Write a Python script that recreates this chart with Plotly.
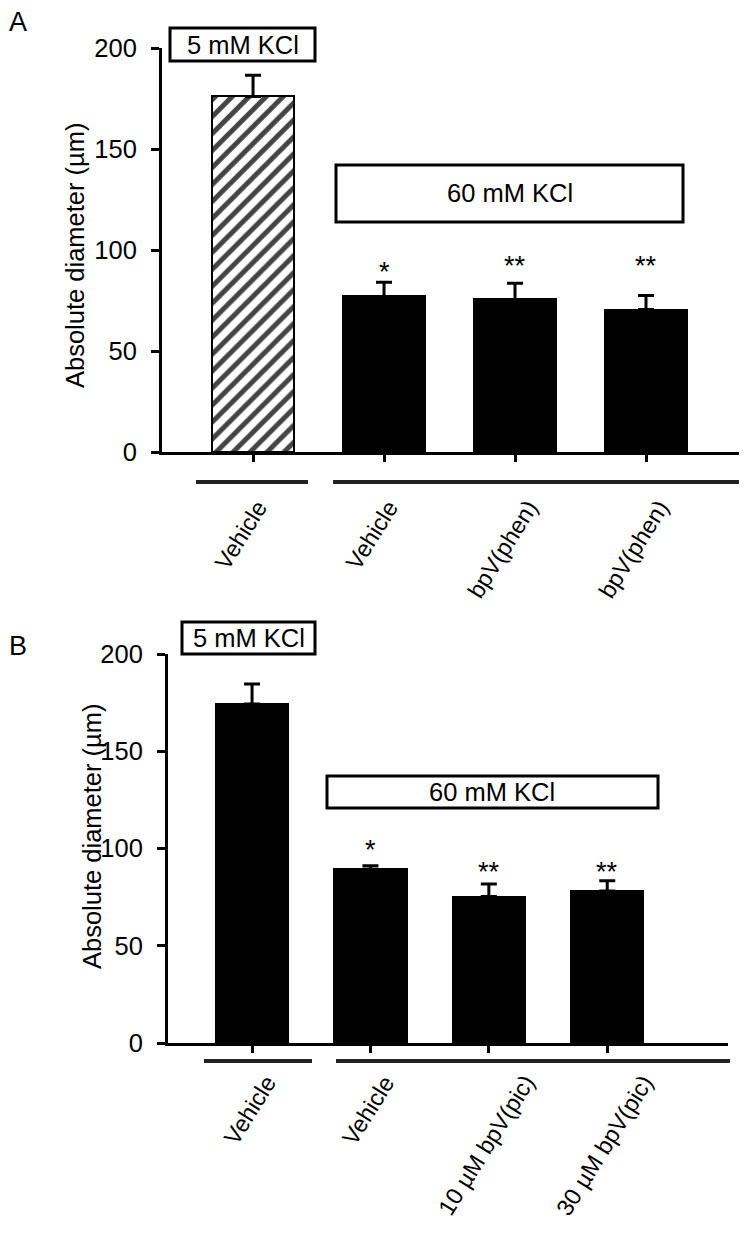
import plotly.graph_objects as go

# ---------------- data ----------------
cats_a = ["Vehicle", "Vehicle", "bpV(phen)", "bpV(phen)"]
mean_a = [176, 77, 75.5, 70.5]
sem_a = [10.5, 7, 8, 7]
sig_a = ["", "*", "**", "**"]
sig_y_a = [None, 89, 92, 92]

cats_b = ["Vehicle", "Vehicle", "10 µM bpV(pic)", "30 µM bpV(pic)"]
mean_b = [174.3, 89.3, 75.3, 78.2]
sem_b = [10.3, 1.8, 6.5, 5.2]
sig_b = ["", "*", "**", "**"]
sig_y_b = [None, 99, 88, 88]

box_labels = ["5 mM KCl", "60 mM KCl"]
y_title = "Absolute diameter (µm)"
y_ticks = [0, 50, 100, 150, 200]

# ---------------- helpers (layout placement only) ----------------
W, H = 747, 1235
OFFX, OFFY = 8, 8  # default page body margin
def px(x):
    return (x - OFFX) / W
def py(y):
    return 1 - (y - OFFY) / H

FONT = "Liberation Sans, Arial, sans-serif"
FS = 25.5
FS_CAT = 23.5

fig = go.Figure()

xs = list(range(4))

# Panel A
fig.add_trace(go.Bar(
    x=xs, y=mean_a, width=0.62, xaxis="x", yaxis="y",
    marker=dict(color=["white", "black", "black", "black"],
                line=dict(color="black", width=2),
                pattern=dict(shape=["/", "", "", ""], fgcolor="black",
                             bgcolor="white", fgopacity=1, fillmode="overlay",
                             size=12, solidity=0.42)),
    error_y=dict(type="data", symmetric=False, array=sem_a,
                 arrayminus=[0] * 4, color="black", thickness=3, width=8),
    showlegend=False, hoverinfo="skip"))

# Panel B
fig.add_trace(go.Bar(
    x=xs, y=mean_b, width=0.61, xaxis="x2", yaxis="y2",
    marker=dict(color="black", line=dict(color="black", width=2)),
    error_y=dict(type="data", symmetric=False, array=sem_b,
                 arrayminus=[0] * 4, color="black", thickness=3, width=8),
    showlegend=False, hoverinfo="skip"))

axis_common = dict(showgrid=False, zeroline=False, showline=True,
                   linecolor="black", linewidth=3, ticks="outside",
                   tickcolor="black", tickwidth=3, automargin=False)
yfont = dict(tickfont=dict(family=FONT, size=FS, color="black"),
             ticklabelstandoff=9)

fig.update_layout(
    template="none",
    width=W, height=H,
    margin=dict(l=0, r=0, t=0, b=0, pad=0, autoexpand=False),
    paper_bgcolor="white", plot_bgcolor="white",
    font=dict(family=FONT, size=FS, color="black"),
    bargap=0,
    xaxis=dict(domain=[px(162), px(739)], range=[-0.695, 3.71],
               tickvals=xs, showticklabels=False, ticklen=7,
               anchor="y", **axis_common),
    yaxis=dict(domain=[py(452), py(48)], range=[0, 200], tickvals=y_ticks,
               ticklen=8, anchor="x", **axis_common, **yfont),
    xaxis2=dict(domain=[px(168), px(728)], range=[-0.71, 4.02],
                tickvals=xs, showticklabels=False, ticklen=7,
                anchor="y2", **axis_common),
    yaxis2=dict(domain=[py(1043), py(654)], range=[0, 200], tickvals=y_ticks,
                ticklen=8, anchor="x2", **axis_common, **yfont),
)

shapes = []
ann = []

def box(x0, y0, x1, y1, text):
    shapes.append(dict(type="rect", xref="paper", yref="paper",
                       x0=px(x0), x1=px(x1), y0=py(y0), y1=py(y1),
                       line=dict(color="black", width=3), fillcolor="white",
                       layer="above"))
    ann.append(dict(xref="paper", yref="paper", x=px((x0 + x1) / 2),
                    y=py((y0 + y1) / 2), text=text, showarrow=False,
                    xanchor="center", yanchor="middle",
                    font=dict(family=FONT, size=FS, color="black")))

def gline(x0, x1, y):
    shapes.append(dict(type="line", xref="paper", yref="paper",
                       x0=px(x0), x1=px(x1), y0=py(y), y1=py(y),
                       line=dict(color="#222222", width=4)))

# Panel A decorations
box(170, 28, 315, 61, box_labels[0])
box(336, 165, 683, 222, box_labels[1])
gline(196, 308, 482)
gline(333, 739, 482)
# Panel B decorations
box(182, 622, 315, 654, box_labels[0])
box(327, 776, 658, 808, box_labels[1])
gline(204, 312, 1061)
gline(336, 730, 1061)

# significance marks
for i in range(4):
    if sig_a[i]:
        ann.append(dict(x=xs[i], y=sig_y_a[i], xref="x", yref="y", text=sig_a[i],
                        showarrow=False, xanchor="center", yanchor="middle",
                        font=dict(family=FONT, size=27, color="black")))
    if sig_b[i]:
        ann.append(dict(x=xs[i], y=sig_y_b[i], xref="x2", yref="y2", text=sig_b[i],
                        showarrow=False, xanchor="center", yanchor="middle",
                        font=dict(family=FONT, size=27, color="black")))

# rotated category labels
for i in range(4):
    ann.append(dict(x=xs[i], y=py(493), xref="x", yref="paper", text=cats_a[i],
                    showarrow=False, textangle=-58, xanchor="center", yanchor="top",
                    xshift=-12, font=dict(family=FONT, size=FS_CAT, color="black")))
    ann.append(dict(x=xs[i], y=py(1068), xref="x2", yref="paper", text=cats_b[i],
                    showarrow=False, textangle=-58, xanchor="center", yanchor="top",
                    xshift=-2, font=dict(family=FONT, size=FS_CAT, color="black")))

# y-axis titles
ann.append(dict(xref="paper", yref="paper", x=px(75), y=py(255), text=y_title,
                textangle=-90, showarrow=False, xanchor="center", yanchor="middle",
                font=dict(family=FONT, size=FS, color="black")))
ann.append(dict(xref="paper", yref="paper", x=px(92), y=py(836), text=y_title,
                textangle=-90, showarrow=False, xanchor="center", yanchor="middle",
                font=dict(family=FONT, size=FS, color="black")))

# panel letters
ann.append(dict(xref="paper", yref="paper", x=px(18), y=py(22), text="A",
                showarrow=False, xanchor="center", yanchor="middle",
                font=dict(family=FONT, size=27, color="black")))
ann.append(dict(xref="paper", yref="paper", x=px(18), y=py(646), text="B",
                showarrow=False, xanchor="center", yanchor="middle",
                font=dict(family=FONT, size=27, color="black")))

fig.update_layout(shapes=shapes, annotations=ann)
fig.write_html("out.html")
